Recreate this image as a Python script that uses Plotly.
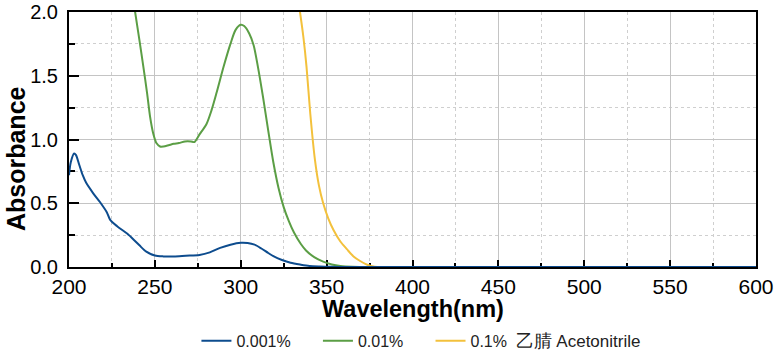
import plotly.graph_objects as go

# Wavelength (nm) and absorbance values
wl_blue = [200, 201, 203, 204, 206, 208, 210, 214, 218, 222, 224, 228, 234, 238, 241, 245, 250, 255, 261, 268, 276, 282, 288, 294, 300, 304, 308, 312, 316, 319, 324, 329, 335, 340, 346, 352, 360, 380, 420, 500, 600]
ab_blue = [0.72, 0.82, 0.89, 0.88, 0.80, 0.72, 0.66, 0.58, 0.51, 0.43, 0.37, 0.32, 0.26, 0.21, 0.17, 0.12, 0.09, 0.083, 0.082, 0.088, 0.095, 0.115, 0.15, 0.175, 0.19, 0.188, 0.175, 0.145, 0.11, 0.085, 0.055, 0.033, 0.018, 0.008, 0.004, 0.002, 0.0, 0.0, 0.0, 0.0, 0.0]

wl_green = [225, 232, 236, 238.5, 241, 243.3, 245.5, 247.2, 249, 251, 253, 255, 258, 261, 264, 267.5, 271, 273, 276, 280, 283, 286, 290, 294, 297, 300, 302, 305, 307.5, 310, 313, 316, 319, 322, 325, 328, 331, 335, 338, 343, 348, 353, 358, 365, 380, 450, 600]
ab_green = [3.2, 2.6, 2.25, 2.0, 1.78, 1.57, 1.36, 1.18, 1.05, 0.97, 0.945, 0.945, 0.955, 0.966, 0.972, 0.985, 0.985, 0.98, 1.04, 1.12, 1.23, 1.37, 1.57, 1.75, 1.86, 1.90, 1.89, 1.83, 1.74, 1.57, 1.33, 1.07, 0.82, 0.62, 0.47, 0.36, 0.27, 0.18, 0.13, 0.075, 0.042, 0.02, 0.008, 0.002, 0.0, 0.0, 0.0]

wl_yellow = [330, 334.5, 336.5, 338.3, 340.5, 343.2, 345.5, 348, 351, 354, 358, 361.8, 365.5, 369.5, 372.5, 375.4, 378, 382, 400, 600]
ab_yellow = [2.4, 2.0, 1.8, 1.57, 1.2, 0.84, 0.64, 0.50, 0.38, 0.29, 0.2, 0.14, 0.085, 0.047, 0.025, 0.01, 0.003, 0.0, 0.0, 0.0]

x_ticks = [200, 250, 300, 350, 400, 450, 500, 550, 600]
y_ticks = [0.0, 0.5, 1.0, 1.5, 2.0]
y_labels = ["0.0", "0.5", "1.0", "1.5", "2.0"]

names = ["0.001%", "0.01%", "0.1% 乙腈 Acetonitrile"]
colors = ["#0d4c8e", "#5b9e45", "#f3c13c"]

nb = "\u00a0"
legend_labels = [
    names[0] + nb * 5,
    names[1] + nb * 5,
    "0.1%" + nb * 2 + '<span style="font-size:17.5px">乙腈</span>' + nb
    + '<span style="font-size:17px">Acetonitrile</span>',
]

fig = go.Figure()
fig.add_trace(go.Scatter(x=wl_yellow, y=ab_yellow, mode="lines", name=legend_labels[2],
                         line=dict(color=colors[2], width=2, shape="spline", smoothing=0.8), legendrank=3))
fig.add_trace(go.Scatter(x=wl_green, y=ab_green, mode="lines", name=legend_labels[1],
                         line=dict(color=colors[1], width=2, shape="spline", smoothing=0.8), legendrank=2))
fig.add_trace(go.Scatter(x=wl_blue, y=ab_blue, mode="lines", name=legend_labels[0],
                         line=dict(color=colors[0], width=2, shape="spline", smoothing=0.8), legendrank=1))

font_family = "Liberation Sans, Arial, sans-serif"

fig.update_layout(
    width=781, height=355,
    margin=dict(l=69, r=25, t=12, b=88, autoexpand=False),
    paper_bgcolor="white", plot_bgcolor="white",
    font=dict(family=font_family, color="black"),
    showlegend=True,
    legend=dict(orientation="h", x=0.513, xanchor="center", y=-0.29, yanchor="middle",
                font=dict(size=16, family=font_family, color="#222"),
                traceorder="normal", bgcolor="rgba(0,0,0,0)"),
    annotations=[
        dict(text="<b>Wavelength(nm)</b>", xref="paper", yref="paper", x=0.5, y=-0.165,
             xanchor="center", yanchor="middle", showarrow=False,
             font=dict(size=23.5, family=font_family, color="black")),
        dict(text="<b>Absorbance</b>", xref="paper", yref="paper", x=-0.0771, y=0.4235,
             xanchor="center", yanchor="middle", showarrow=False, textangle=-90,
             font=dict(size=25, family=font_family, color="black")),
    ],
)

fig.update_xaxes(
    range=[200, 600], tickvals=x_ticks, ticktext=[str(v) for v in x_ticks],
    showline=True, linecolor="black", linewidth=2, mirror=True,
    ticks="inside", ticklen=7, tickwidth=2, tickcolor="black",
    tickfont=dict(size=21, family=font_family),
    showgrid=True, gridcolor="#c4c4c4", gridwidth=1,
    minor=dict(dtick=25, tick0=200, ticks="inside", ticklen=4, tickwidth=2, tickcolor="black",
               showgrid=True, gridcolor="#cfcfcf", griddash="dot", gridwidth=1),
    zeroline=False, layer="below traces", automargin=False,
)
fig.update_yaxes(
    range=[0, 2.0], tickvals=y_ticks, ticktext=y_labels,
    showline=True, linecolor="black", linewidth=2, mirror=True,
    ticks="inside", ticklen=10, tickwidth=2, tickcolor="black",
    tickfont=dict(size=20, family=font_family), ticklabelstandoff=5,
    showgrid=True, gridcolor="#c4c4c4", gridwidth=1,
    minor=dict(dtick=0.25, tick0=0, ticks="inside", ticklen=6, tickwidth=2, tickcolor="black",
               showgrid=True, gridcolor="#cfcfcf", griddash="dot", gridwidth=1),
    zeroline=False, layer="below traces", automargin=False,
)

# remove the browser's default 8px body margin so the figure fills the window exactly
fig.write_html("out.html", config={"displayModeBar": False},
               post_script="document.body.style.margin='0px';")
